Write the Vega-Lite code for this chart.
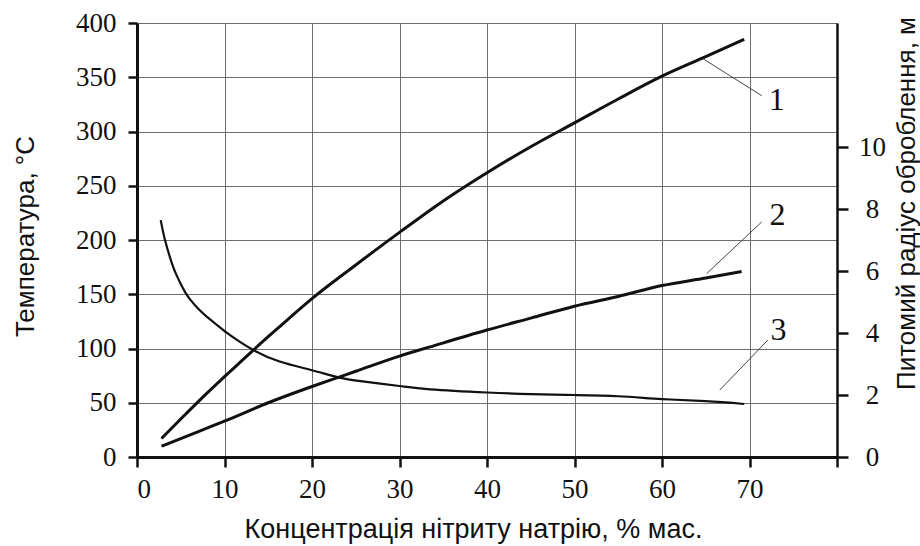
{
  "$schema": "https://vega.github.io/schema/vega-lite/v6.json",
  "width": 700,
  "height": 434,
  "autosize": {"type": "none"},
  "padding": {"left": 137, "top": 23, "right": 83, "bottom": 89},
  "background": "white",
  "config": {
    "view": {"stroke": null},
    "font": "Liberation Serif",
    "axis": {
      "labelFont": "serif",
      "domainColor": "#111",
      "tickColor": "#111",
      "gridColor": "#6e6e6e",
      "gridWidth": 1
    }
  },
  "datasets": {
    "c12": [
      {"series": "1", "x": 2.8, "y": 17}, {"series": "1", "x": 5, "y": 35}, {"series": "1", "x": 7.5, "y": 55},
      {"series": "1", "x": 10, "y": 74}, {"series": "1", "x": 13.3, "y": 98.6}, {"series": "1", "x": 16, "y": 118},
      {"series": "1", "x": 20, "y": 146}, {"series": "1", "x": 25, "y": 177}, {"series": "1", "x": 30, "y": 207},
      {"series": "1", "x": 35, "y": 236}, {"series": "1", "x": 40, "y": 262}, {"series": "1", "x": 45, "y": 286},
      {"series": "1", "x": 50, "y": 308}, {"series": "1", "x": 55, "y": 330}, {"series": "1", "x": 60, "y": 351},
      {"series": "1", "x": 65, "y": 369}, {"series": "1", "x": 69.4, "y": 385},
      {"series": "2", "x": 2.8, "y": 10}, {"series": "2", "x": 5, "y": 17}, {"series": "2", "x": 7.5, "y": 25},
      {"series": "2", "x": 10, "y": 33}, {"series": "2", "x": 15, "y": 50}, {"series": "2", "x": 20, "y": 65},
      {"series": "2", "x": 23, "y": 73.4}, {"series": "2", "x": 25, "y": 79}, {"series": "2", "x": 30, "y": 93},
      {"series": "2", "x": 33.5, "y": 101.5}, {"series": "2", "x": 40, "y": 117}, {"series": "2", "x": 45, "y": 128},
      {"series": "2", "x": 50, "y": 139}, {"series": "2", "x": 55, "y": 148}, {"series": "2", "x": 60, "y": 158},
      {"series": "2", "x": 65, "y": 165}, {"series": "2", "x": 69.1, "y": 171}
    ],
    "c3": [
      {"x": 2.71, "r": 7.64}, {"x": 3.2, "r": 7.0}, {"x": 4.0, "r": 6.24}, {"x": 4.5, "r": 5.88},
      {"x": 5.0, "r": 5.58}, {"x": 5.5, "r": 5.32}, {"x": 6.0, "r": 5.11}, {"x": 7.0, "r": 4.78},
      {"x": 8.0, "r": 4.52}, {"x": 9.0, "r": 4.29}, {"x": 10.25, "r": 4.01}, {"x": 11.5, "r": 3.76},
      {"x": 13.3, "r": 3.45}, {"x": 16.3, "r": 3.08}, {"x": 20, "r": 2.8}, {"x": 23, "r": 2.57},
      {"x": 26, "r": 2.43}, {"x": 30, "r": 2.29}, {"x": 33.5, "r": 2.18}, {"x": 40, "r": 2.08},
      {"x": 45, "r": 2.03}, {"x": 50, "r": 2.0}, {"x": 55, "r": 1.96}, {"x": 60, "r": 1.87},
      {"x": 65, "r": 1.8}, {"x": 69.4, "r": 1.71}
    ],
    "leaders": [
      {"x": 64.7, "y": 367, "x2": 71.4, "y2": 333},
      {"x": 65.1, "y": 169, "x2": 71.4, "y2": 216.7},
      {"x": 66.6, "y": 61.7, "x2": 72.1, "y2": 107.8}
    ],
    "labels": [
      {"x": 73.1, "y": 329, "label": "1"},
      {"x": 73.2, "y": 223, "label": "2"},
      {"x": 73.3, "y": 117, "label": "3"}
    ]
  },
  "layer": [
    {
      "layer": [
        {
          "data": {"name": "c12"},
          "mark": {"type": "line", "interpolate": "monotone", "color": "#111", "strokeWidth": 3},
          "encoding": {
            "x": {
              "field": "x", "type": "quantitative",
              "scale": {"domain": [0, 80], "nice": false},
              "axis": {
                "values": [0, 10, 20, 30, 40, 50, 60, 70, 80],
                "labelExpr": "datum.value == 80 ? '' : datum.label",
                "title": "Концентрація нітриту натрію, % мас.",
                "titleFont": "Liberation Sans", "titleFontSize": 27, "titleFontWeight": "normal", "titleColor": "#111",
                "titleX": 336, "titleY": 72, "titleBaseline": "middle", "titleAlign": "center",
                "labelFont": "serif", "labelFontSize": 27, "labelPadding": 9, "labelColor": "#111",
                "tickSize": 10, "tickWidth": 2.5, "domainWidth": 3,
                "grid": true
              }
            },
            "y": {
              "field": "y", "type": "quantitative",
              "scale": {"domain": [0, 400], "nice": false},
              "axis": {
                "values": [0, 50, 100, 150, 200, 250, 300, 350, 400],
                "title": "Температура, °C",
                "titleFont": "Liberation Sans", "titleFontSize": 26, "titleFontWeight": "normal", "titleColor": "#111",
                "titleAngle": -90, "titleX": -112, "titleY": 213, "titleBaseline": "middle", "titleAlign": "center",
                "labelFont": "serif", "labelFontSize": 27, "labelPadding": 12, "labelColor": "#111",
                "tickSize": 9, "tickWidth": 2.5, "domainWidth": 3,
                "grid": true
              }
            },
            "detail": {"field": "series"}
          }
        },
        {
          "data": {"name": "leaders"},
          "mark": {"type": "rule", "color": "#444", "strokeWidth": 1},
          "encoding": {
            "x": {"field": "x", "type": "quantitative"},
            "y": {"field": "y", "type": "quantitative"},
            "x2": {"field": "x2"},
            "y2": {"field": "y2"}
          }
        },
        {
          "data": {"name": "labels"},
          "mark": {"type": "text", "font": "Liberation Serif", "fontSize": 32, "color": "#111", "align": "center", "baseline": "middle"},
          "encoding": {
            "x": {"field": "x", "type": "quantitative"},
            "y": {"field": "y", "type": "quantitative"},
            "text": {"field": "label"}
          }
        }
      ]
    },
    {
      "data": {"name": "c3"},
      "mark": {"type": "line", "interpolate": "natural", "color": "#111", "strokeWidth": 2.2},
      "encoding": {
        "x": {"field": "x", "type": "quantitative"},
        "y": {
          "field": "r", "type": "quantitative",
          "scale": {"domain": [0, 14], "nice": false},
          "axis": {
            "orient": "right",
            "values": [0, 2, 4, 6, 8, 10],
            "title": "Питомий радіус оброблення, м",
            "titleFont": "Liberation Sans", "titleFontSize": 26, "titleFontWeight": "normal", "titleColor": "#111",
            "titleAngle": -90, "titleX": 69, "titleY": 180, "titleBaseline": "middle", "titleAlign": "center",
            "labelFont": "serif", "labelFontSize": 27, "labelPadding": 24, "labelAlign": "center", "labelColor": "#111",
            "tickSize": 11, "tickWidth": 2.5, "domainWidth": 2.5,
            "grid": false
          }
        }
      }
    }
  ],
  "resolve": {"scale": {"y": "independent"}}
}
